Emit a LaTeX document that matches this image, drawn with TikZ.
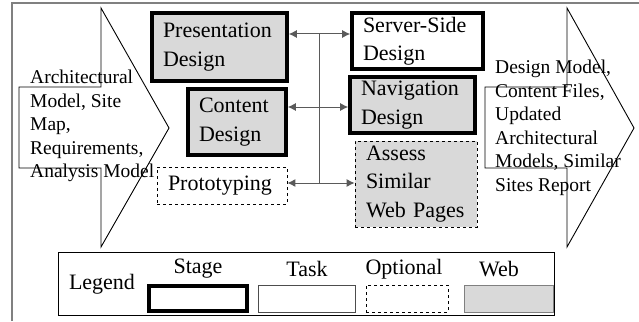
\documentclass[tikz,border=0pt]{standalone}
\usepackage{fontspec}
\setmainfont{Liberation Serif}
\usetikzlibrary{arrows.meta}
\definecolor{webgray}{RGB}{217,217,217}
\definecolor{framegray}{RGB}{128,128,128}
\definecolor{linkgray}{RGB}{90,90,90}

\begin{document}
\begin{tikzpicture}[x=1pt, y=-1pt,
    box/.style={align=left, inner xsep=11pt, inner ysep=0pt, font=\fontsize{22}{28.5}\selectfont},
    stagebox/.style={draw, line width=3.6pt},
    optbox/.style={draw, dashed, line width=0.8pt},
    webbox/.style={fill=webgray},
    flow/.style={draw, line width=0.9pt},
    note/.style={align=left, inner sep=0pt, anchor=west, font=\fontsize{19.5}{23.5}\selectfont},
    key/.style={inner sep=0pt, font=\fontsize{22}{26}\selectfont},
    link/.style={linkgray, line width=1pt},
    both/.style={{Latex[length=8pt,width=8pt]}-{Latex[length=8pt,width=8pt]}}
  ]
  \useasboundingbox (0,0) rectangle (639,321);
  \draw[framegray, line width=1.5pt] (12,321) -- (12,3) -- (639,3);

  % stage arrows
  \draw[flow] (101,8) -- (169,128) -- (101,247) -- (101,168) -- (19,168) -- (19,87) -- (101,87) -- cycle;
  \draw[flow] (567,8) -- (634,128) -- (567,247) -- (567,168) -- (485,168) -- (485,87) -- (567,87) -- cycle;
  \node[note] (inputs) at (30,126) {Architectural\\Model, Site\\Map,\\Requirements,\\Analysis Model};
  \node[note] (outputs) at (495,128) {Design Model,\\Content Files,\\Updated\\Architectural\\Models, Similar\\Sites Report};

  % tasks
  \node[box, stagebox, webbox, text width=113pt, minimum height=68pt] (pres) at (219.5,47) {Presentation\\Design};
  \node[box, stagebox, webbox, text width=76pt, minimum height=66pt] (content) at (237,122) {Content\\Design};
  \node[box, optbox, text width=108pt, minimum height=37pt] (proto) at (222,185.5) {Prototyping};
  \node[box, stagebox, text width=109pt, minimum height=56pt] (server) at (417.5,41) {Server-Side\\Design};
  \node[box, stagebox, webbox, text width=103pt, minimum height=56pt] (nav) at (412.5,105) {Navigation\\Design};
  \node[box, optbox, webbox, text width=100pt, minimum height=86pt] (assess) at (416,184) {Assess\\Similar\\Web Pages};

  \coordinate (h1) at (319,34);
  \coordinate (h2) at (319,107);
  \coordinate (h3) at (319,183);
  \draw[link] (h1) -- (h3);
  \draw[link, both] (pres.east |- h1) -- (server.west |- h1);
  \draw[link, both] (content.east |- h2) -- (nav.west |- h2);
  \draw[link, both] (proto.east |- h3) -- (assess.west |- h3);

  % legend
  \node[draw, line width=0.8pt, minimum width=496pt, minimum height=63pt] (legend) at (306,283.5) {};
  \node[key] (legendtext) at (102,284) {Legend};
  \node[stagebox, minimum width=98pt, minimum height=25pt] (kstage) at (198,298.5) {};
  \node[draw, framegray!60!black, line width=0.8pt, minimum width=97pt, minimum height=27pt] (ktask) at (306.5,298.5) {};
  \node[optbox, minimum width=82pt, minimum height=27pt] (kopt) at (407,298.5) {};
  \node[draw, framegray, webbox, line width=0.8pt, minimum width=89pt, minimum height=27pt] (kweb) at (508.5,298.5) {};
  \node[key] at (198,269) {Stage};
  \node[key] at (307,269) {Task};
  \node[key] at (404,269) {Optional};
  \node[key] at (499,269) {Web};
\end{tikzpicture}
\end{document}
